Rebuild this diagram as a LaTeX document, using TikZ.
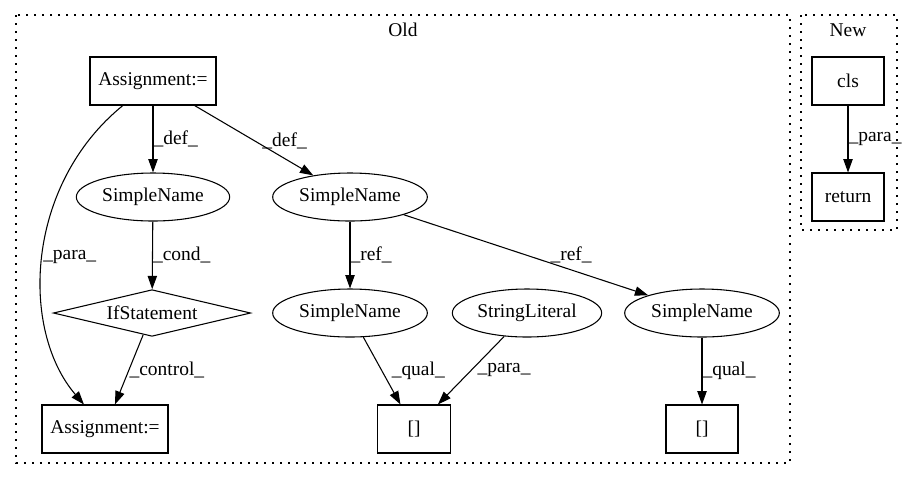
\documentclass[tikz,border=0pt]{standalone}
\usepackage{fontspec}
\newfontfamily\graphfont{Liberation Serif}
\usetikzlibrary{arrows.meta,shapes.geometric}
\tikzstyle{stmt}=[
	rectangle,
	draw,
	line width=0.8pt,
	minimum width=94.5pt,
	minimum height=36pt,
	inner sep=0pt
]
\tikzstyle{expr}=[
	ellipse,
	draw,
	line width=0.8pt,
	minimum width=115pt,
	minimum height=36pt,
	inner sep=0pt
]
\tikzstyle{branch}=[
	diamond,
	draw,
	aspect=4.2,
	line width=0.8pt,
	minimum width=148pt,
	minimum height=35pt,
	inner sep=0pt
]
\tikzstyle{flow}=[
	-{Triangle[length=10pt,width=7pt]},
	line width=0.8pt
]
\tikzstyle{lbl}=[
	anchor=west,
	inner sep=0pt
]
\tikzstyle{cluster}=[
	line width=0.8pt,
	dash pattern=on 1.2pt off 4.8pt
]

\begin{document}
\begin{tikzpicture}[x=0.75pt,y=-0.75pt,font=\graphfont\fontsize{14.6}{17}\selectfont]
\useasboundingbox (0,0) rectangle (912,480);
% clusters
\draw [cluster] (16,15) rectangle (790,463);
\draw [cluster] (801,15) rectangle (897,230);
\node (old) at (403,30) {Old};
\node (new) at (848,30) {New};
% old
\node [stmt] (a1) at (153,81) {Assignment:=};
\node [expr] (sn1) at (153,197) {SimpleName};
\node [expr, minimum width=116pt] (sn2) at (350,197) {SimpleName};
\node [branch] (ifs) at (152,313) {IfStatement};
\node [stmt] (a2) at (105,429) {Assignment:=};
\node [expr, minimum width=116pt] (sn3) at (350,313) {SimpleName};
\node [expr, minimum width=112pt] (lit) at (527,313) {StringLiteral};
\node [expr, minimum width=116pt] (sn4) at (702,313) {SimpleName};
\node [stmt, minimum width=55pt] (idx1) at (414,429) {[]};
\node [stmt, minimum width=54pt] (idx2) at (702,429) {[]};
\draw [flow] (a1) -- node [lbl] {\_def\_} (sn1);
\draw [flow] (a1) -- node [lbl, xshift=6pt] {\_def\_} (sn2);
\draw [flow] (a1) .. controls (25,185) and (20,330) .. node [lbl] {\_para\_} (a2);
\draw [flow] (sn1) -- node [lbl] {\_cond\_} (ifs);
\draw [flow] (ifs) -- node [lbl] {\_control\_} (a2);
\draw [flow] (sn2) -- node [lbl] {\_ref\_} (sn3);
\draw [flow] (sn2) -- node [lbl, xshift=18pt] {\_ref\_} (sn4);
\draw [flow] (sn3) -- node [lbl, xshift=7pt] {\_qual\_} (idx1);
\draw [flow] (lit) -- node [lbl, xshift=4.5pt] {\_para\_} (idx1);
\draw [flow] (sn4) -- node [lbl] {\_qual\_} (idx2);
% new
\node [stmt, minimum width=54pt] (cls) at (848,81) {cls};
\node [stmt, minimum width=54pt] (ret) at (848,197) {return};
\draw [flow] (cls) -- node [lbl] {\_para\_} (ret);
\end{tikzpicture}
\end{document}
